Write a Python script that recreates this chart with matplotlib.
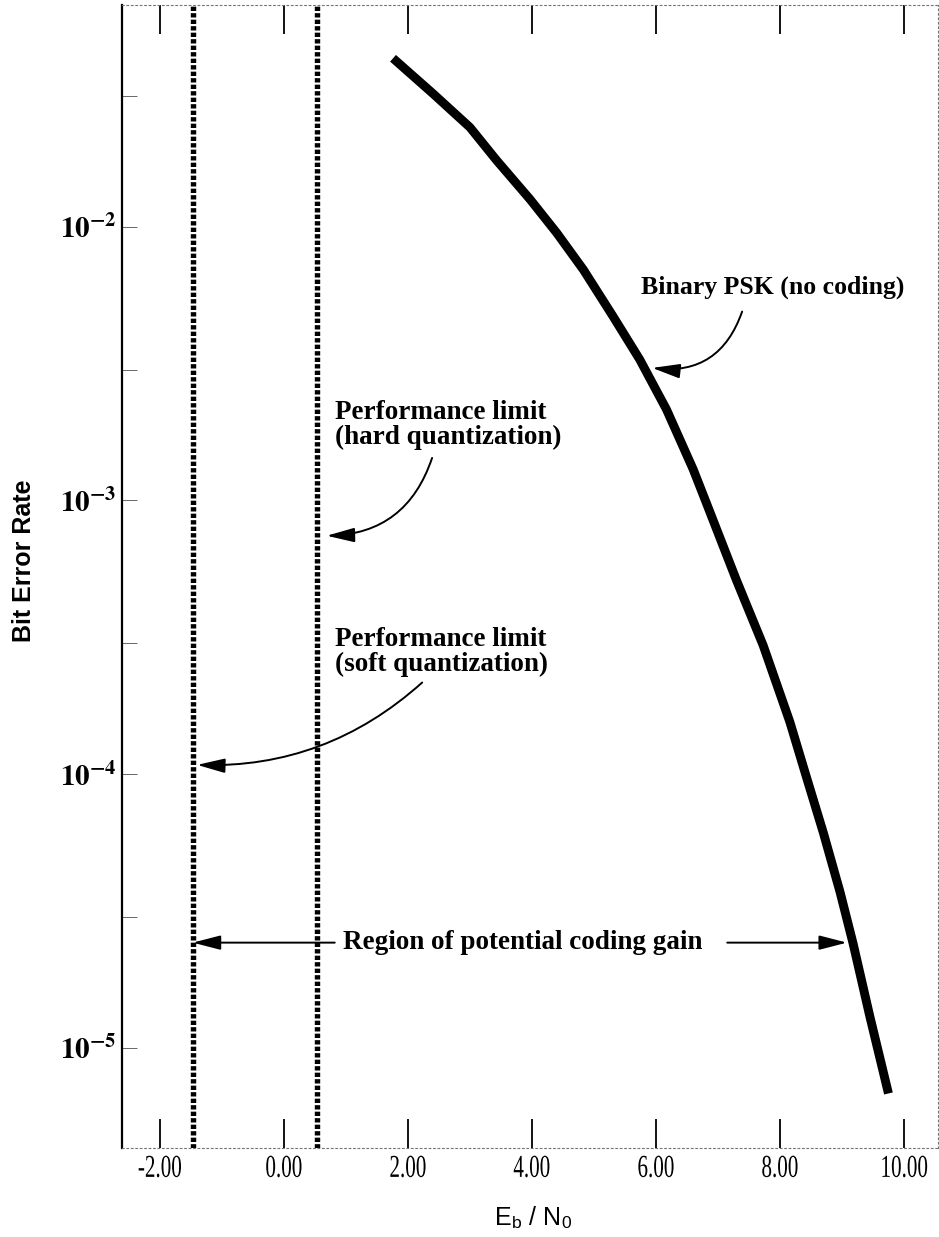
import matplotlib
matplotlib.use("Agg")
import matplotlib.pyplot as plt
from matplotlib import patheffects
from matplotlib.transforms import Affine2D

# Uncoded binary PSK bit error rate versus Eb/N0 (dB)
ebno_db = [1.76, 2.41, 3.00, 3.43, 3.97, 4.40, 4.83, 5.31, 5.74, 6.17,
           6.60, 6.82, 7.30, 7.73, 8.16, 8.43, 8.70, 8.97, 9.18, 9.45, 9.75]
ber_bpsk = [4.13e-2, 3.06e-2, 2.31e-2, 1.75e-2, 1.26e-2, 9.5e-3, 6.97e-3,
            4.7e-3, 3.27e-3, 2.15e-3, 1.30e-3, 9.7e-4, 5.1e-4, 2.95e-4,
            1.55e-4, 9.7e-5, 6.1e-5, 3.7e-5, 2.4e-5, 1.3e-5, 6.8e-6]

# Coding performance limits (dB)
limit_soft_db = -1.47
limit_hard_db = 0.53

x_ticks = [-2, 0, 2, 4, 6, 8, 10]
x_tick_labels = ["-2.00", "0.00", "2.00", "4.00", "6.00", "8.00", "10.00"]
y_major = [1e-2, 1e-3, 1e-4, 1e-5]
y_major_labels = [r"$\mathbf{10^{-2}}$", r"$\mathbf{10^{-3}}$",
                  r"$\mathbf{10^{-4}}$", r"$\mathbf{10^{-5}}$"]
y_minor = [3e-2, 3e-3, 3e-4, 3e-5]

plt.rcParams["mathtext.fontset"] = "stix"


class Condensed(patheffects.AbstractPathEffect):
    """Squeeze glyphs horizontally about their own centre."""

    def __init__(self, sx=0.75):
        super().__init__()
        self.sx = sx

    def draw_path(self, renderer, gc, tpath, affine, rgbFace=None):
        ext = tpath.get_extents()
        cx = 0.5 * (ext.x0 + ext.x1)
        squeeze = Affine2D().translate(-cx, 0).scale(self.sx, 1).translate(cx, 0)
        renderer.draw_path(gc, tpath, squeeze + affine, rgbFace)


fig = plt.figure(figsize=(9.39, 12.37), dpi=100)
ax = fig.add_axes([0.130, 0.072, 0.869, 0.924])
ax.set_yscale("log")
ax.set_xlim(-2.61, 10.55)
ax.set_ylim(4.3e-6, 6.47e-2)

# Performance limits as heavy dotted verticals
for xv in (limit_soft_db, limit_hard_db):
    ax.axvline(xv, color="black", lw=3.9, linestyle=(0, (0.8, 0.4)),
               dash_capstyle="butt", zorder=2)

# BPSK curve
ax.plot(ebno_db, ber_bpsk, color="black", lw=6.4,
        solid_capstyle="butt", solid_joinstyle="round", zorder=3)

# Axes frame
for side in ("top", "bottom", "right"):
    ax.spines[side].set_linestyle((0, (1.5, 2.5)))
    ax.spines[side].set_linewidth(0.8)
    ax.spines[side].set_color("0.45")
ax.spines["left"].set_linewidth(1.6)

# Ticks
ax.set_xticks(x_ticks, labels=x_tick_labels)
ax.tick_params(axis="x", which="major", direction="in", length=21, width=1.3,
               top=True, bottom=True, pad=5, labelsize=23)
for lab in ax.get_xticklabels():
    lab.set_fontfamily("Liberation Serif")
    lab.set_path_effects([Condensed(0.66)])

ax.set_yticks(y_major, labels=y_major_labels)
ax.set_yticks(y_minor, minor=True)
ax.yaxis.set_minor_formatter(plt.NullFormatter())
ax.tick_params(axis="y", which="both", direction="in", length=11, width=0.7,
               color="0.4", left=True, right=False, pad=4, labelsize=21)

# Axis titles
ax.set_ylabel("Bit Error Rate", fontfamily="Liberation Sans", fontweight="bold",
              fontsize=18)
ax.yaxis.set_label_coords(-0.106, 0.514)
fig.text(533 / 939, 1 - 1218 / 1237, r"E$_\mathregular{b}$ / N$_\mathregular{0}$",
         fontfamily="Liberation Sans", fontsize=18, ha="center", va="center")

# Annotations
serif_bold = dict(fontfamily="Liberation Serif", fontweight="bold", color="black")
arrow_style = "-|>,head_length=0.85,head_width=0.22"


def curved_arrow(start, end, rad):
    ax.annotate("", xy=end, xytext=start,
                arrowprops=dict(arrowstyle=arrow_style, color="black", lw=1.4,
                                mutation_scale=20, shrinkA=0, shrinkB=0,
                                connectionstyle=f"arc3,rad={rad}"),
                zorder=4)


ax.text(7.89, 6.0e-3, "Binary PSK (no coding)", ha="center", va="center",
        fontsize=18.5, **serif_bold)
curved_arrow((7.39, 4.9e-3), (5.94, 3.05e-3), -0.4)

ax.text(0.82, 1.89e-3, "Performance limit\n(hard quantization)", ha="left",
        va="center", linespacing=1.0, fontsize=19.5, **serif_bold)
curved_arrow((2.39, 1.43e-3), (0.69, 7.43e-4), -0.35)

ax.text(0.82, 2.8e-4, "Performance limit\n(soft quantization)", ha="left",
        va="center", linespacing=1.0, fontsize=19.5, **serif_bold)
curved_arrow((2.23, 2.16e-4), (-1.40, 1.08e-4), -0.2)

ax.text(0.95, 2.42e-5, "Region of potential coding gain", ha="left",
        va="center", fontsize=19.5, **serif_bold)
curved_arrow((0.82, 2.42e-5), (limit_soft_db, 2.42e-5), 0.0)
curved_arrow((7.15, 2.42e-5), (9.08, 2.42e-5), 0.0)

fig.savefig("out.png", dpi=100, facecolor="white")
